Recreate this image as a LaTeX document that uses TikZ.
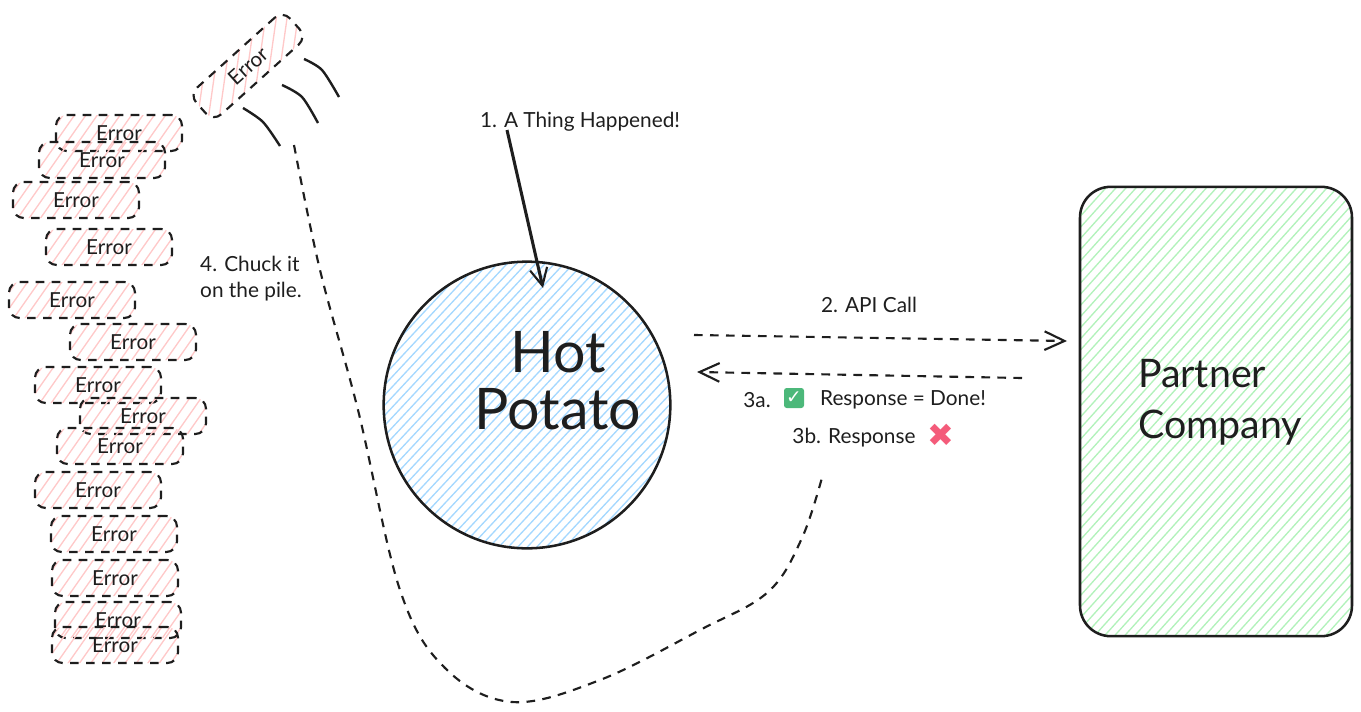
\documentclass[tikz,border=0pt]{standalone}
\usepackage{fontspec}
\setmainfont{Lato}
\newfontfamily\symfont{DejaVu Sans}
\usepackage{xcolor}
\usetikzlibrary{arrows.meta}
\definecolor{myink}{HTML}{1E1E1E}
\definecolor{myblue}{HTML}{A5D8FF}
\definecolor{mygreen}{HTML}{B2F2BB}
\definecolor{myred}{HTML}{FFC9C9}
\definecolor{mytick}{HTML}{4CB87A}
\definecolor{mycross}{HTML}{F45B7A}
\tikzset{
  myhatch/.style n args={3}{
    path picture={
      \foreach \k in {-40,...,40} {
        \draw [draw=#1, solid, line width=1pt] (path picture bounding box.center)
          ++(#2+90:\k*#3) ++(#2:-300pt) -- ++(#2:600pt);
      }
    },
  },
  mydashes/.style={
    draw=myink,
    line width=1.6pt,
    dash pattern=on 6.5pt off 5.5pt,
  },
  myarrow/.style={
    mydashes,
    -{Straight Barb[length=15pt,width=14pt,line width=1.6pt]},
  },
  myerror/.style={
    mydashes,
    shape=rectangle,
    rounded corners=8pt,
    minimum width=94.5pt,
    minimum height=27pt,
    inner sep=0pt,
    outer sep=0pt,
    text=myink,
    font=\fontsize{15.5}{18}\selectfont,
  },
  mymotion/.style={
    draw=myink,
    line width=1.8pt,
  },
  mytext/.style={
    text=myink,
    align=center,
    inner sep=0pt,
    font=\fontsize{15.6}{19.5}\selectfont,
  },
  mybigtext/.style={
    text=myink,
    inner sep=0pt,
  },
}

\begin{document}
\begin{tikzpicture}[x=0.75pt,y=-0.75pt]
    \useasboundingbox (0,0) rectangle (1361,711);

    \node [draw=myink, line width=1.9pt, shape=circle, minimum size=215pt, inner sep=0pt, outer sep=0pt,
      myhatch={myblue}{47}{5.2pt}] (Potato) at (527,405) {};
    \node [mybigtext, align=center, font=\fontsize{43}{43}\selectfont] (PotatoText) at (558,381) {Hot\\Potato};
    \node [mytext] (Thing) at (580,122) {1. A Thing Happened!};
    \coordinate (ThingStart) at (507,130);
    \coordinate (ThingEnd) at (543,288);
    \draw [draw=myink, line width=2.3pt, -{Straight Barb[length=13pt,width=13pt,line width=1.6pt]}] (ThingStart) -- (ThingEnd);

    \node [draw=myink, line width=1.9pt, shape=rectangle, rounded corners=23pt, minimum width=204pt, minimum height=337pt, inner sep=0pt, outer sep=0pt,
      myhatch={mygreen}{48}{5.6pt}] (Partner) at (1216,411.5) {};
    \node [mybigtext, align=left, font=\fontsize{29.5}{38}\selectfont] (PartnerText) at (1220,402) {Partner\\Company};

    \coordinate (CallStart) at (694,335);
    \coordinate (CallEnd) at (1067,341);
    \draw [myarrow] (CallStart) -- (CallEnd);
    \node [mytext] (Call) at (869,305) {2. API Call};
    \coordinate (DoneStart) at (1022,378);
    \coordinate (DoneEnd) at (697,372);
    \draw [myarrow] (DoneStart) -- (DoneEnd);

    \node [mytext] (ThreeA) at (757,400) {3a.};
    \node [fill=mytick, rounded corners=2pt, minimum size=15pt, inner sep=0pt, text=white, font=\symfont\bfseries\fontsize{14}{14}\selectfont] (Tick) at (794,398) {✓};
    \node [mytext] (Done) at (903,400) {Response = Done!};
    \node [mytext] (ThreeB) at (854,438) {3b. Response};
    \node [text=mycross, inner sep=0pt, font=\symfont\fontsize{24}{24}\selectfont] (Cross) at (941,435) {✖};

    % the pile
    \foreach \name/\x/\y in {a/119/133, b/102/160, c/76/200, d/109/247, e/72/300, f/133/342, g/98/385,
      h/143/416, i/120/446, j/98/490, k/114/534, l/115/578, m/118/620, n/115/645} {
      \node [myerror, myhatch={myred}{55}{7pt}] (Error\name) at (\x,\y) {Error};
    }
    \node [myerror, rotate=42, myhatch={myred}{40}{8pt}] (Thrown) at (248,66) {Error};

    \coordinate (MotionA) at (304,59);
    \coordinate (MotionAm) at (322,70);
    \coordinate (MotionAe) at (339,97);
    \coordinate (MotionB) at (282,85);
    \coordinate (MotionBm) at (302,97);
    \coordinate (MotionBe) at (318,123);
    \coordinate (MotionC) at (243,108);
    \coordinate (MotionCm) at (263,122);
    \coordinate (MotionCe) at (280,146);
    \draw [mymotion] plot [smooth] coordinates {(MotionA) (MotionAm) (MotionAe)};
    \draw [mymotion] plot [smooth] coordinates {(MotionB) (MotionBm) (MotionBe)};
    \draw [mymotion] plot [smooth] coordinates {(MotionC) (MotionCm) (MotionCe)};

    \node [mytext, align=left] (Chuck) at (251,279) {4. Chuck it\\on the pile.};

    \coordinate (BackStart) at (294,145);
    \coordinate (BackA) at (320,270);
    \coordinate (BackB) at (358,410);
    \coordinate (BackC) at (400,590);
    \coordinate (BackD) at (445,668);
    \coordinate (BackE) at (512,702);
    \coordinate (BackF) at (600,680);
    \coordinate (BackG) at (700,630);
    \coordinate (BackH) at (768,592);
    \coordinate (BackI) at (802,538);
    \coordinate (BackEnd) at (823,474);
    \draw [mydashes] plot [smooth, tension=0.6] coordinates {(BackStart) (BackA) (BackB) (BackC) (BackD) (BackE) (BackF) (BackG) (BackH) (BackI) (BackEnd)};

  \end{tikzpicture}
\end{document}
